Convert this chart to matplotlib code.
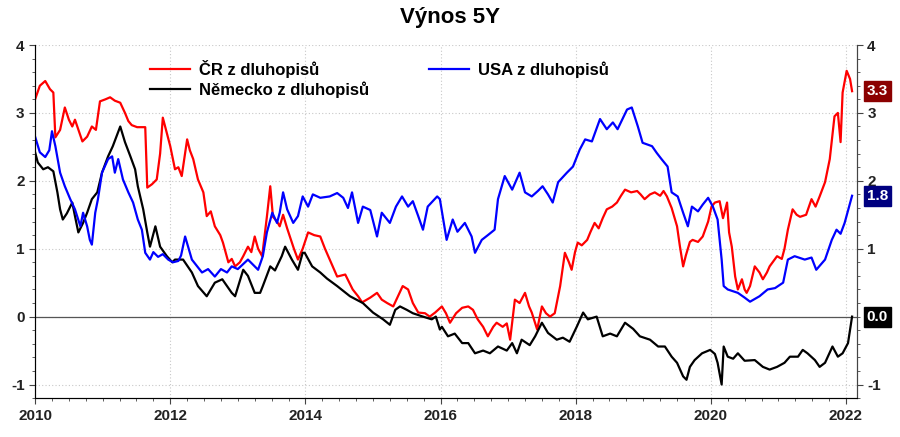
import matplotlib
matplotlib.use("Agg")
import matplotlib.pyplot as plt
from matplotlib.ticker import MultipleLocator
import numpy as np

plt.rcParams['font.family'] = ['Liberation Sans', 'DejaVu Sans']
plt.rcParams['font.weight'] = 'bold'
plt.rcParams['axes.unicode_minus'] = False

# data (decimal year, yield %)
cz_t = [2010.00, 2010.07, 2010.15, 2010.22, 2010.27, 2010.30, 2010.37, 2010.44, 2010.50, 2010.55,
        2010.59, 2010.70, 2010.77, 2010.84, 2010.90, 2010.96, 2011.04, 2011.11, 2011.18, 2011.26,
        2011.33, 2011.38, 2011.43, 2011.51, 2011.63, 2011.66, 2011.73, 2011.80, 2011.85, 2011.89,
        2011.95, 2012.00, 2012.07, 2012.12, 2012.17, 2012.25, 2012.29, 2012.34, 2012.41, 2012.49,
        2012.54, 2012.60, 2012.66, 2012.74, 2012.78, 2012.86, 2012.91, 2012.96, 2013.03, 2013.08,
        2013.15, 2013.20, 2013.25, 2013.30, 2013.36, 2013.43, 2013.48, 2013.52, 2013.58, 2013.62,
        2013.67, 2013.73, 2013.77, 2013.83, 2013.89, 2013.96, 2014.04, 2014.13, 2014.22, 2014.29,
        2014.36, 2014.47, 2014.59, 2014.70, 2014.78, 2014.84, 2014.96, 2015.06, 2015.13, 2015.21,
        2015.30, 2015.37, 2015.44, 2015.52, 2015.59, 2015.67, 2015.77, 2015.84, 2015.92, 2016.02,
        2016.08, 2016.14, 2016.23, 2016.32, 2016.41, 2016.48, 2016.55, 2016.63, 2016.70, 2016.78,
        2016.83, 2016.92, 2016.98, 2017.03, 2017.10, 2017.17, 2017.25, 2017.31, 2017.35, 2017.43,
        2017.50, 2017.56, 2017.62, 2017.69, 2017.77, 2017.84, 2017.90, 2017.94, 2017.99, 2018.03,
        2018.09, 2018.17, 2018.22, 2018.28, 2018.34, 2018.40, 2018.46, 2018.54, 2018.61, 2018.67,
        2018.73, 2018.82, 2018.91, 2018.96, 2019.02, 2019.10, 2019.17, 2019.25, 2019.30, 2019.35,
        2019.42, 2019.50, 2019.54, 2019.59, 2019.63, 2019.69, 2019.73, 2019.81, 2019.88, 2019.96,
        2020.01, 2020.06, 2020.13, 2020.18, 2020.24, 2020.27, 2020.31, 2020.36, 2020.40, 2020.46,
        2020.50, 2020.53, 2020.58, 2020.65, 2020.72, 2020.77, 2020.83, 2020.87, 2020.95, 2020.98,
        2021.05, 2021.09, 2021.14, 2021.21, 2021.27, 2021.32, 2021.41, 2021.49, 2021.55, 2021.61,
        2021.69, 2021.76, 2021.83, 2021.88, 2021.92, 2021.95, 2022.01, 2022.06, 2022.09]
cz_v = [3.20, 3.40, 3.47, 3.35, 3.30, 2.64, 2.75, 3.08, 2.90, 2.80,
        2.90, 2.58, 2.65, 2.80, 2.75, 3.17, 3.20, 3.23, 3.18, 3.15,
        3.00, 2.88, 2.82, 2.79, 2.79, 1.90, 1.95, 2.02, 2.40, 2.93,
        2.70, 2.51, 2.17, 2.20, 2.07, 2.61, 2.45, 2.32, 2.02, 1.83,
        1.48, 1.55, 1.33, 1.20, 1.09, 0.80, 0.85, 0.74, 0.80, 0.89,
        1.03, 0.95, 1.18, 1.00, 0.89, 1.47, 1.92, 1.47, 1.40, 1.33,
        1.50, 1.30, 1.18, 1.00, 0.84, 1.00, 1.24, 1.20, 1.18, 1.00,
        0.84, 0.59, 0.62, 0.40, 0.30, 0.21, 0.28, 0.35, 0.25, 0.20,
        0.15, 0.30, 0.45, 0.40, 0.20, 0.06, 0.05, 0.00, 0.06, 0.15,
        0.05, -0.09, 0.05, 0.13, 0.15, 0.10, -0.04, -0.15, -0.29, -0.15,
        -0.09, -0.15, -0.10, -0.34, 0.25, 0.20, 0.35, 0.15, 0.06, -0.19,
        0.15, 0.05, 0.00, 0.05, 0.45, 0.94, 0.80, 0.69, 0.95, 1.09,
        1.05, 1.13, 1.25, 1.38, 1.30, 1.45, 1.58, 1.62, 1.68, 1.78,
        1.87, 1.83, 1.85, 1.80, 1.73, 1.80, 1.83, 1.78, 1.85, 1.77,
        1.60, 1.33, 1.05, 0.74, 0.90, 1.10, 1.13, 1.10, 1.18, 1.40,
        1.62, 1.68, 1.70, 1.45, 1.68, 1.24, 1.03, 0.59, 0.40, 0.55,
        0.40, 0.35, 0.45, 0.74, 0.65, 0.55, 0.65, 0.74, 0.85, 0.89,
        0.85, 1.00, 1.28, 1.58, 1.50, 1.47, 1.50, 1.73, 1.62, 1.77,
        1.98, 2.32, 2.95, 3.00, 2.57, 3.30, 3.62, 3.50, 3.32]

de_t = [2010.00, 2010.04, 2010.12, 2010.19, 2010.27, 2010.33, 2010.37, 2010.41, 2010.47, 2010.55,
        2010.59, 2010.64, 2010.71, 2010.77, 2010.84, 2010.92, 2010.99, 2011.08, 2011.15, 2011.26,
        2011.33, 2011.41, 2011.48, 2011.52, 2011.60, 2011.66, 2011.70, 2011.78, 2011.85, 2011.95,
        2012.03, 2012.07, 2012.19, 2012.32, 2012.41, 2012.54, 2012.66, 2012.77, 2012.91, 2012.96,
        2013.08, 2013.15, 2013.25, 2013.33, 2013.37, 2013.48, 2013.55, 2013.65, 2013.70, 2013.80,
        2013.89, 2013.96, 2013.99, 2014.10, 2014.22, 2014.32, 2014.47, 2014.66, 2014.85, 2015.00,
        2015.15, 2015.25, 2015.33, 2015.40, 2015.50, 2015.59, 2015.74, 2015.87, 2015.93, 2015.99,
        2016.02, 2016.11, 2016.21, 2016.32, 2016.41, 2016.51, 2016.63, 2016.73, 2016.85, 2016.98,
        2017.06, 2017.13, 2017.20, 2017.32, 2017.40, 2017.50, 2017.59, 2017.72, 2017.81, 2017.91,
        2018.02, 2018.11, 2018.18, 2018.31, 2018.40, 2018.51, 2018.61, 2018.73, 2018.85, 2018.95,
        2019.10, 2019.22, 2019.32, 2019.42, 2019.50, 2019.59, 2019.64, 2019.69, 2019.76, 2019.87,
        2019.99, 2020.06, 2020.10, 2020.16, 2020.19, 2020.25, 2020.33, 2020.40, 2020.50, 2020.65,
        2020.77, 2020.87, 2020.98, 2021.09, 2021.17, 2021.29, 2021.36, 2021.43, 2021.54, 2021.61,
        2021.69, 2021.80, 2021.88, 2021.95, 2022.03, 2022.09]
de_v = [2.42, 2.27, 2.17, 2.20, 2.14, 1.83, 1.58, 1.43, 1.52, 1.68,
        1.48, 1.24, 1.38, 1.53, 1.73, 1.83, 2.12, 2.36, 2.51, 2.80,
        2.57, 2.36, 2.17, 1.92, 1.58, 1.24, 1.03, 1.33, 1.03, 0.89,
        0.80, 0.84, 0.84, 0.65, 0.45, 0.30, 0.50, 0.55, 0.35, 0.30,
        0.69, 0.60, 0.35, 0.35, 0.45, 0.74, 0.68, 0.89, 1.03, 0.84,
        0.69, 0.94, 0.94, 0.74, 0.65, 0.56, 0.45, 0.30, 0.20, 0.06,
        -0.04, -0.12, 0.10, 0.15, 0.10, 0.05, 0.00, -0.04, 0.00, -0.19,
        -0.15, -0.29, -0.25, -0.39, -0.39, -0.54, -0.50, -0.54, -0.44, -0.50,
        -0.39, -0.54, -0.34, -0.42, -0.29, -0.09, -0.24, -0.34, -0.31, -0.37,
        -0.14, 0.06, -0.04, 0.00, -0.29, -0.25, -0.29, -0.09, -0.18, -0.29,
        -0.34, -0.44, -0.44, -0.59, -0.68, -0.88, -0.93, -0.74, -0.64, -0.54,
        -0.49, -0.55, -0.68, -1.00, -0.44, -0.59, -0.62, -0.54, -0.65, -0.64,
        -0.74, -0.78, -0.74, -0.68, -0.59, -0.59, -0.49, -0.54, -0.64, -0.74,
        -0.68, -0.44, -0.59, -0.54, -0.39, 0.00]

us_t = [2010.00, 2010.07, 2010.15, 2010.21, 2010.25, 2010.30, 2010.37, 2010.44, 2010.52, 2010.59,
        2010.67, 2010.71, 2010.77, 2010.81, 2010.84, 2010.89, 2010.93, 2010.99, 2011.08, 2011.14,
        2011.18, 2011.23, 2011.30, 2011.38, 2011.45, 2011.52, 2011.58, 2011.63, 2011.70, 2011.75,
        2011.82, 2011.89, 2011.97, 2012.04, 2012.12, 2012.16, 2012.22, 2012.32, 2012.47, 2012.56,
        2012.66, 2012.75, 2012.84, 2012.91, 2013.00, 2013.15, 2013.30, 2013.37, 2013.43, 2013.51,
        2013.58, 2013.62, 2013.67, 2013.73, 2013.82, 2013.89, 2013.96, 2014.04, 2014.11, 2014.22,
        2014.36, 2014.47, 2014.56, 2014.63, 2014.69, 2014.78, 2014.85, 2014.96, 2015.06, 2015.13,
        2015.25, 2015.34, 2015.43, 2015.52, 2015.59, 2015.67, 2015.74, 2015.81, 2015.95, 2015.99,
        2016.04, 2016.09, 2016.18, 2016.25, 2016.36, 2016.46, 2016.51, 2016.61, 2016.70, 2016.80,
        2016.85, 2016.95, 2017.06, 2017.17, 2017.25, 2017.35, 2017.44, 2017.51, 2017.59, 2017.66,
        2017.74, 2017.87, 2017.96, 2018.06, 2018.14, 2018.24, 2018.36, 2018.46, 2018.55, 2018.62,
        2018.76, 2018.83, 2018.92, 2018.99, 2019.13, 2019.20, 2019.27, 2019.36, 2019.42, 2019.51,
        2019.59, 2019.66, 2019.72, 2019.81, 2019.88, 2019.96, 2020.03, 2020.10, 2020.16, 2020.19,
        2020.25, 2020.40, 2020.50, 2020.58, 2020.72, 2020.84, 2020.95, 2021.07, 2021.14, 2021.24,
        2021.39, 2021.49, 2021.56, 2021.69, 2021.79, 2021.86, 2021.92, 2021.98, 2022.09]
us_v = [2.65, 2.42, 2.35, 2.45, 2.73, 2.51, 2.12, 1.92, 1.73, 1.58,
        1.33, 1.53, 1.33, 1.13, 1.06, 1.53, 1.73, 2.12, 2.32, 2.36,
        2.12, 2.32, 2.02, 1.83, 1.68, 1.43, 1.28, 0.94, 0.84, 0.95,
        0.88, 0.92, 0.84, 0.80, 0.82, 0.90, 1.18, 0.84, 0.65, 0.70,
        0.59, 0.70, 0.65, 0.74, 0.70, 0.84, 0.69, 0.89, 1.24, 1.53,
        1.38, 1.53, 1.83, 1.58, 1.38, 1.48, 1.77, 1.62, 1.80, 1.75,
        1.77, 1.82, 1.75, 1.60, 1.83, 1.38, 1.62, 1.57, 1.18, 1.53,
        1.38, 1.62, 1.77, 1.62, 1.70, 1.48, 1.28, 1.62, 1.77, 1.73,
        1.43, 1.13, 1.43, 1.25, 1.38, 1.18, 0.94, 1.13, 1.20, 1.28,
        1.73, 2.07, 1.87, 2.12, 1.83, 1.77, 1.85, 1.92, 1.80, 1.68,
        1.98, 2.12, 2.21, 2.46, 2.61, 2.58, 2.91, 2.76, 2.86, 2.76,
        3.05, 3.08, 2.80, 2.56, 2.51, 2.41, 2.32, 2.21, 1.83, 1.77,
        1.53, 1.33, 1.62, 1.55, 1.65, 1.75, 1.62, 1.43, 0.84, 0.45,
        0.40, 0.35, 0.28, 0.22, 0.30, 0.40, 0.42, 0.50, 0.84, 0.89,
        0.84, 0.87, 0.69, 0.84, 1.13, 1.28, 1.22, 1.38, 1.78]

labels = ["ČR z dluhopisů", "Německo z dluhopisů", "USA z dluhopisů"]
colors = ["#ff0000", "#000000", "#0000ff"]
box_colors = ["#8b0000", "#000000", "#000080"]

fig = plt.figure(figsize=(9, 4.37), dpi=100)
ax = fig.add_axes([0.039, 0.089, 0.913, 0.808])

ax.axhline(0, color="#555555", lw=0.9, zorder=2)
l1, = ax.plot(cz_t, cz_v, color=colors[0], lw=1.6, label=labels[0], zorder=3)
l2, = ax.plot(de_t, de_v, color=colors[1], lw=1.6, label=labels[1], zorder=3)
l3, = ax.plot(us_t, us_v, color=colors[2], lw=1.6, label=labels[2], zorder=3)

ax.set_xlim(2010, 2022.16)
ax.set_ylim(-1.2, 4)
ax.xaxis.set_major_locator(MultipleLocator(2))
ax.xaxis.set_minor_locator(MultipleLocator(0.25))
ax.yaxis.set_major_locator(MultipleLocator(1))
ax.yaxis.set_minor_locator(MultipleLocator(0.2))
ax.xaxis.set_major_formatter(matplotlib.ticker.FormatStrFormatter('%d'))
ax.grid(True, which='major', color="#c8c8c8", linestyle=(0, (1, 2)), lw=0.8, zorder=1)
ax.spines['top'].set_visible(False)
for s in ['left', 'bottom', 'right']:
    ax.spines[s].set_color("#444444")
ax.tick_params(which='both', colors="#444444", labelcolor="#222222", labelsize=11)
ax.tick_params(which='major', length=4)
ax.tick_params(which='minor', length=2.5)

ax2 = ax.twinx()
ax2.set_ylim(ax.get_ylim())
ax2.yaxis.set_major_locator(matplotlib.ticker.FixedLocator([-1, 1, 2, 3, 4]))
ax2.yaxis.set_minor_locator(MultipleLocator(0.2))
ax2.spines['top'].set_visible(False)
ax2.spines['right'].set_color("#444444")
ax2.tick_params(which='both', colors="#444444", labelcolor="#222222", labelsize=11)
ax2.tick_params(which='major', length=4)
ax2.tick_params(which='minor', length=2.5)

# last value boxes
for vals, bc in zip([cz_v, de_v, us_v], box_colors):
    last = vals[-1]
    ax2.annotate(f"{last:.1f}", xy=(1.012, last), xycoords=('axes fraction', 'data'),
                 ha='left', va='center', color='white', fontsize=11, fontweight='bold',
                 bbox=dict(boxstyle='square,pad=0.2', fc=bc, ec=bc), annotation_clip=False)

ax.legend(handles=[l1, l2, l3], loc='upper left', bbox_to_anchor=(0.121, 1.0), ncol=2,
          frameon=False, fontsize=12, handlelength=2.4, columnspacing=3.6,
          labelspacing=0.2, handletextpad=0.55)

fig.suptitle("Výnos 5Y", fontsize=16, fontweight='bold', y=0.985)

fig.savefig("out.png", dpi=100)
